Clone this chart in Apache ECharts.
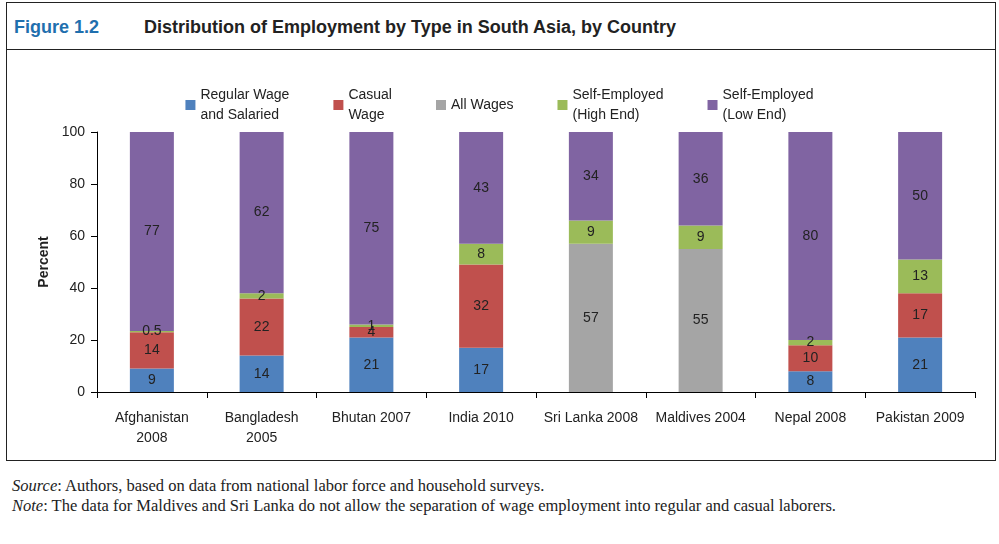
<!DOCTYPE html>
<html><head><meta charset="utf-8">
<script src="https://cdn.jsdelivr.net/npm/echarts@6/dist/echarts.min.js"></script>
<style>
body{margin:0;background:#fff;}
#frame{position:absolute;left:6px;top:2px;width:988px;height:457px;border:1px solid #222;}
#head{position:absolute;left:0;top:0;width:988px;height:46px;border-bottom:1.5px solid #222;font-family:Arial,"Liberation Sans",sans-serif;font-weight:bold;font-size:18px;}
#head .fig{position:absolute;left:7px;top:14px;color:#1f6fae;}
#head .tt{position:absolute;left:137px;top:14px;color:#222;}
#main{position:absolute;left:0;top:0;width:999px;height:460px;}
#foot{position:absolute;left:12px;top:476px;width:975px;font-family:"Liberation Serif","DejaVu Serif",serif;font-size:16.5px;line-height:20px;color:#222;text-align:justify;}
</style></head>
<body>
<div id="frame"><div id="head"><span class="fig">Figure 1.2</span><span class="tt">Distribution of Employment by Type in South Asia, by Country</span></div></div>
<div id="main"></div>
<div id="foot"><i>Source</i>: Authors, based on data from national labor force and household surveys.<br><i>Note</i>: The data for Maldives and Sri Lanka do not allow the separation of wage employment into regular and casual laborers.</div>
<script>
const countries = ['Afghanistan\n2008','Bangladesh\n2005','Bhutan 2007','India 2010','Sri Lanka 2008','Maldives 2004','Nepal 2008','Pakistan 2009'];
const seriesNames = ['Regular Wage\nand Salaried','Casual\nWage','All Wages','Self-Employed\n(High End)','Self-Employed\n(Low End)'];
const colors = ['#4f81bd','#c0504d','#a5a5a5','#9bbb59','#8064a2'];
const regular = [9,14,21,17,null,null,8,21];
const casual = [14,22,4,32,null,null,10,17];
const allWages = [null,null,null,null,57,55,null,null];
const seHigh = [0.5,2,1,8,9,9,2,13];
const seLow = [77,62,75,43,34,36,80,50];
const yTicks = [0,20,40,60,80,100];
const values = [regular,casual,allWages,seHigh,seLow];

const chart = echarts.init(document.getElementById('main'));
const font = 'Arial, "Liberation Sans", sans-serif';
chart.setOption({
  textStyle:{fontFamily:font},
  legend:{top:80,left:'center',icon:'rect',itemWidth:10,itemHeight:10,itemGap:44,
    textStyle:{fontSize:14,color:'#222',fontFamily:font,lineHeight:20,align:'center'},
    data:seriesNames},
  grid:{left:97,right:24,top:132,bottom:68},
  xAxis:{type:'category',data:countries,
    axisLine:{lineStyle:{color:'#000'}},
    axisTick:{show:true,alignWithLabel:false,length:6,lineStyle:{color:'#000'}},
    axisLabel:{color:'#222',fontSize:14,margin:16,lineHeight:20,interval:0}},
  yAxis:{type:'value',min:0,max:100,interval:20,name:'Percent',nameLocation:'middle',nameGap:44,
    nameTextStyle:{fontWeight:'bold',fontSize:14,color:'#222'},
    axisLine:{show:true,lineStyle:{color:'#000'}},
    axisTick:{show:true,length:6,lineStyle:{color:'#000'}},
    splitLine:{show:false},
    axisLabel:{color:'#222',fontSize:14,margin:12,formatter:v=>yTicks.includes(v)?v:''}},
  series:values.map((d,i)=>({
    name:seriesNames[i],type:'bar',stack:'s',barWidth:44,data:d,
    itemStyle:{color:colors[i]},
    label:{show:true,position:'inside',color:'#222',fontSize:14,
      formatter:p=>p.value==null?'':String(p.value)}
  }))
});
</script>
</body></html>
